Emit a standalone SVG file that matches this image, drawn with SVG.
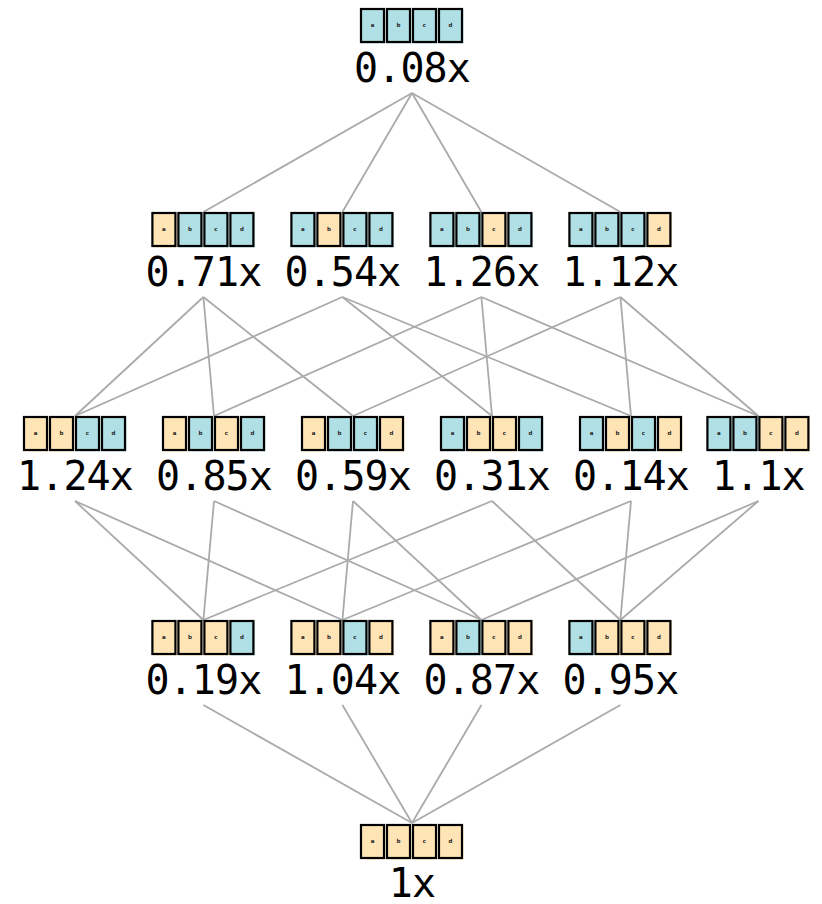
<svg xmlns="http://www.w3.org/2000/svg" width="822" height="904" viewBox="0 0 822 904">
<style>
.bg{fill:#ffffff}
.c{fill:#b0e0e6}
.o{fill:#ffe4b5}
.s{fill:none;stroke:#000000;stroke-width:2.2}
.t{font-family:"DejaVu Sans","Liberation Sans",sans-serif;font-size:5.5px;font-weight:bold;fill:#222222;text-anchor:middle}
.lbl{font-family:"DejaVu Sans Mono","Liberation Mono",monospace;font-size:40px;letter-spacing:-0.9px;fill:#000000;text-anchor:middle}
.e{stroke:#aaaaaa;stroke-width:1.8;fill:none}
</style>
<defs>
<g id="outl">
<rect class="s" x="-51" y="-73" width="23" height="33"/>
<rect class="s" x="-25" y="-73" width="23" height="33"/>
<rect class="s" x="1" y="-73" width="23" height="33"/>
<rect class="s" x="27" y="-73" width="23" height="33"/>
<text class="t" x="-39.5" y="-54.6">a</text>
<text class="t" x="-13.5" y="-54.6">b</text>
<text class="t" x="12.5" y="-54.6">c</text>
<text class="t" x="38.5" y="-54.6">d</text>
</g>
</defs>
<rect class="bg" x="0" y="0" width="822" height="904"/>
<g id="connectors">
<line class="e" x1="412" y1="93" x2="203.4" y2="212"/>
<line class="e" x1="412" y1="93" x2="342.4" y2="212"/>
<line class="e" x1="412" y1="93" x2="481.4" y2="212"/>
<line class="e" x1="412" y1="93" x2="620.4" y2="212"/>
<line class="e" x1="203.4" y1="297" x2="75" y2="416"/>
<line class="e" x1="203.4" y1="297" x2="214" y2="416"/>
<line class="e" x1="203.4" y1="297" x2="353" y2="416"/>
<line class="e" x1="342.4" y1="297" x2="75" y2="416"/>
<line class="e" x1="342.4" y1="297" x2="492" y2="416"/>
<line class="e" x1="342.4" y1="297" x2="631" y2="416"/>
<line class="e" x1="481.4" y1="297" x2="214" y2="416"/>
<line class="e" x1="481.4" y1="297" x2="492" y2="416"/>
<line class="e" x1="481.4" y1="297" x2="758.4" y2="416"/>
<line class="e" x1="620.4" y1="297" x2="353" y2="416"/>
<line class="e" x1="620.4" y1="297" x2="631" y2="416"/>
<line class="e" x1="620.4" y1="297" x2="758.4" y2="416"/>
<line class="e" x1="75" y1="501" x2="203.4" y2="620"/>
<line class="e" x1="75" y1="501" x2="342.4" y2="620"/>
<line class="e" x1="214" y1="501" x2="203.4" y2="620"/>
<line class="e" x1="214" y1="501" x2="481.4" y2="620"/>
<line class="e" x1="353" y1="501" x2="342.4" y2="620"/>
<line class="e" x1="353" y1="501" x2="481.4" y2="620"/>
<line class="e" x1="492" y1="501" x2="203.4" y2="620"/>
<line class="e" x1="492" y1="501" x2="620.4" y2="620"/>
<line class="e" x1="631" y1="501" x2="342.4" y2="620"/>
<line class="e" x1="631" y1="501" x2="620.4" y2="620"/>
<line class="e" x1="758.4" y1="501" x2="481.4" y2="620"/>
<line class="e" x1="758.4" y1="501" x2="620.4" y2="620"/>
<line class="e" x1="203.4" y1="705" x2="412" y2="823"/>
<line class="e" x1="342.4" y1="705" x2="412" y2="823"/>
<line class="e" x1="481.4" y1="705" x2="412" y2="823"/>
<line class="e" x1="620.4" y1="705" x2="412" y2="823"/>
</g>
<g id="n_abcd" transform="translate(412,82)">
<rect class="c" x="-51" y="-73" width="24.5" height="34.5"/><rect class="c" x="-25" y="-73" width="24.5" height="34.5"/><rect class="c" x="1" y="-73" width="24.5" height="34.5"/><rect class="c" x="27" y="-73" width="24.5" height="34.5"/>
<use href="#outl"/><text class="lbl" x="0" y="0">0.08x</text>
</g>
<g id="n_bcd" transform="translate(203.4,286)">
<rect class="o" x="-51" y="-73" width="24.5" height="34.5"/><rect class="c" x="-25" y="-73" width="24.5" height="34.5"/><rect class="c" x="1" y="-73" width="24.5" height="34.5"/><rect class="c" x="27" y="-73" width="24.5" height="34.5"/>
<use href="#outl"/><text class="lbl" x="0" y="0">0.71x</text>
</g>
<g id="n_acd" transform="translate(342.4,286)">
<rect class="c" x="-51" y="-73" width="24.5" height="34.5"/><rect class="o" x="-25" y="-73" width="24.5" height="34.5"/><rect class="c" x="1" y="-73" width="24.5" height="34.5"/><rect class="c" x="27" y="-73" width="24.5" height="34.5"/>
<use href="#outl"/><text class="lbl" x="0" y="0">0.54x</text>
</g>
<g id="n_abd" transform="translate(481.4,286)">
<rect class="c" x="-51" y="-73" width="24.5" height="34.5"/><rect class="c" x="-25" y="-73" width="24.5" height="34.5"/><rect class="o" x="1" y="-73" width="24.5" height="34.5"/><rect class="c" x="27" y="-73" width="24.5" height="34.5"/>
<use href="#outl"/><text class="lbl" x="0" y="0">1.26x</text>
</g>
<g id="n_abc" transform="translate(620.4,286)">
<rect class="c" x="-51" y="-73" width="24.5" height="34.5"/><rect class="c" x="-25" y="-73" width="24.5" height="34.5"/><rect class="c" x="1" y="-73" width="24.5" height="34.5"/><rect class="o" x="27" y="-73" width="24.5" height="34.5"/>
<use href="#outl"/><text class="lbl" x="0" y="0">1.12x</text>
</g>
<g id="n_cd" transform="translate(75,490)">
<rect class="o" x="-51" y="-73" width="24.5" height="34.5"/><rect class="o" x="-25" y="-73" width="24.5" height="34.5"/><rect class="c" x="1" y="-73" width="24.5" height="34.5"/><rect class="c" x="27" y="-73" width="24.5" height="34.5"/>
<use href="#outl"/><text class="lbl" x="0" y="0">1.24x</text>
</g>
<g id="n_bd" transform="translate(214,490)">
<rect class="o" x="-51" y="-73" width="24.5" height="34.5"/><rect class="c" x="-25" y="-73" width="24.5" height="34.5"/><rect class="o" x="1" y="-73" width="24.5" height="34.5"/><rect class="c" x="27" y="-73" width="24.5" height="34.5"/>
<use href="#outl"/><text class="lbl" x="0" y="0">0.85x</text>
</g>
<g id="n_bc" transform="translate(353,490)">
<rect class="o" x="-51" y="-73" width="24.5" height="34.5"/><rect class="c" x="-25" y="-73" width="24.5" height="34.5"/><rect class="c" x="1" y="-73" width="24.5" height="34.5"/><rect class="o" x="27" y="-73" width="24.5" height="34.5"/>
<use href="#outl"/><text class="lbl" x="0" y="0">0.59x</text>
</g>
<g id="n_ad" transform="translate(492,490)">
<rect class="c" x="-51" y="-73" width="24.5" height="34.5"/><rect class="o" x="-25" y="-73" width="24.5" height="34.5"/><rect class="o" x="1" y="-73" width="24.5" height="34.5"/><rect class="c" x="27" y="-73" width="24.5" height="34.5"/>
<use href="#outl"/><text class="lbl" x="0" y="0">0.31x</text>
</g>
<g id="n_ac" transform="translate(631,490)">
<rect class="c" x="-51" y="-73" width="24.5" height="34.5"/><rect class="o" x="-25" y="-73" width="24.5" height="34.5"/><rect class="c" x="1" y="-73" width="24.5" height="34.5"/><rect class="o" x="27" y="-73" width="24.5" height="34.5"/>
<use href="#outl"/><text class="lbl" x="0" y="0">0.14x</text>
</g>
<g id="n_ab" transform="translate(758.4,490)">
<rect class="c" x="-51" y="-73" width="24.5" height="34.5"/><rect class="c" x="-25" y="-73" width="24.5" height="34.5"/><rect class="o" x="1" y="-73" width="24.5" height="34.5"/><rect class="o" x="27" y="-73" width="24.5" height="34.5"/>
<use href="#outl"/><text class="lbl" x="0" y="0">1.1x</text>
</g>
<g id="n_d" transform="translate(203.4,694)">
<rect class="o" x="-51" y="-73" width="24.5" height="34.5"/><rect class="o" x="-25" y="-73" width="24.5" height="34.5"/><rect class="o" x="1" y="-73" width="24.5" height="34.5"/><rect class="c" x="27" y="-73" width="24.5" height="34.5"/>
<use href="#outl"/><text class="lbl" x="0" y="0">0.19x</text>
</g>
<g id="n_c" transform="translate(342.4,694)">
<rect class="o" x="-51" y="-73" width="24.5" height="34.5"/><rect class="o" x="-25" y="-73" width="24.5" height="34.5"/><rect class="c" x="1" y="-73" width="24.5" height="34.5"/><rect class="o" x="27" y="-73" width="24.5" height="34.5"/>
<use href="#outl"/><text class="lbl" x="0" y="0">1.04x</text>
</g>
<g id="n_b" transform="translate(481.4,694)">
<rect class="o" x="-51" y="-73" width="24.5" height="34.5"/><rect class="c" x="-25" y="-73" width="24.5" height="34.5"/><rect class="o" x="1" y="-73" width="24.5" height="34.5"/><rect class="o" x="27" y="-73" width="24.5" height="34.5"/>
<use href="#outl"/><text class="lbl" x="0" y="0">0.87x</text>
</g>
<g id="n_a" transform="translate(620.4,694)">
<rect class="c" x="-51" y="-73" width="24.5" height="34.5"/><rect class="o" x="-25" y="-73" width="24.5" height="34.5"/><rect class="o" x="1" y="-73" width="24.5" height="34.5"/><rect class="o" x="27" y="-73" width="24.5" height="34.5"/>
<use href="#outl"/><text class="lbl" x="0" y="0">0.95x</text>
</g>
<g id="n_none" transform="translate(412,897)">
<rect class="o" x="-51" y="-72" width="24.5" height="34.5"/><rect class="o" x="-25" y="-72" width="24.5" height="34.5"/><rect class="o" x="1" y="-72" width="24.5" height="34.5"/><rect class="o" x="27" y="-72" width="24.5" height="34.5"/>
<use href="#outl" y="1"/><text class="lbl" x="0" y="0">1x</text>
</g>
</svg>
